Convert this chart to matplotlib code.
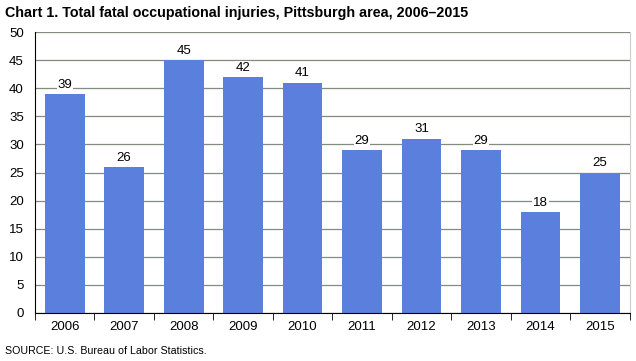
import matplotlib
matplotlib.use("Agg")
import matplotlib.pyplot as plt
import numpy as np

years = ["2006", "2007", "2008", "2009", "2010", "2011", "2012", "2013", "2014", "2015"]
values = [39, 26, 45, 42, 41, 29, 31, 29, 18, 25]
yticks = [0, 5, 10, 15, 20, 25, 30, 35, 40, 45, 50]

plt.rcParams['font.family'] = ['Liberation Sans', 'DejaVu Sans']

fig = plt.figure(figsize=(6.36, 3.61), dpi=100)
ax = fig.add_axes([0.055, 0.133, 0.935, 0.778])

x = np.arange(len(years))
ax.bar(x, values, width=0.67, color="#5b7fdc", zorder=2)
for xi, v in zip(x, values):
    ax.text(xi, v + 0.6, str(v), ha="center", va="bottom", fontsize=9.5,
            bbox=dict(facecolor="white", edgecolor="none", pad=0.5), zorder=3)

ax.set_ylim(0, 50)
ax.set_xlim(-0.5, len(years) - 0.5)
ax.set_yticks(yticks)
ax.set_yticklabels([str(t) for t in yticks], fontsize=9.5)
ax.yaxis.grid(True, color="#7f8c7f", linewidth=0.9, zorder=0)
ax.set_axisbelow(True)
ax.tick_params(axis="y", length=0, pad=8)

ax.set_xticks(x)
ax.set_xticklabels(years, fontsize=9.5)
ax.tick_params(axis="x", length=0, pad=6)
ax.set_xticks(np.arange(-0.5, len(years), 1), minor=True)
ax.tick_params(axis="x", which="minor", length=5, direction="out", color="black")

ax.spines["top"].set_visible(False)
ax.spines["right"].set_color("#c8d0c8")
ax.spines["left"].set_color("black")
ax.spines["bottom"].set_color("black")

fig.text(0.008, 0.965, "Chart 1. Total fatal occupational injuries, Pittsburgh area, 2006\u20132015",
         fontsize=10.3, fontweight="bold", ha="left", va="center")
fig.text(0.008, 0.028, "SOURCE: U.S. Bureau of Labor Statistics.", fontsize=7.7, ha="left", va="center")

fig.savefig("out.png", dpi=100)
